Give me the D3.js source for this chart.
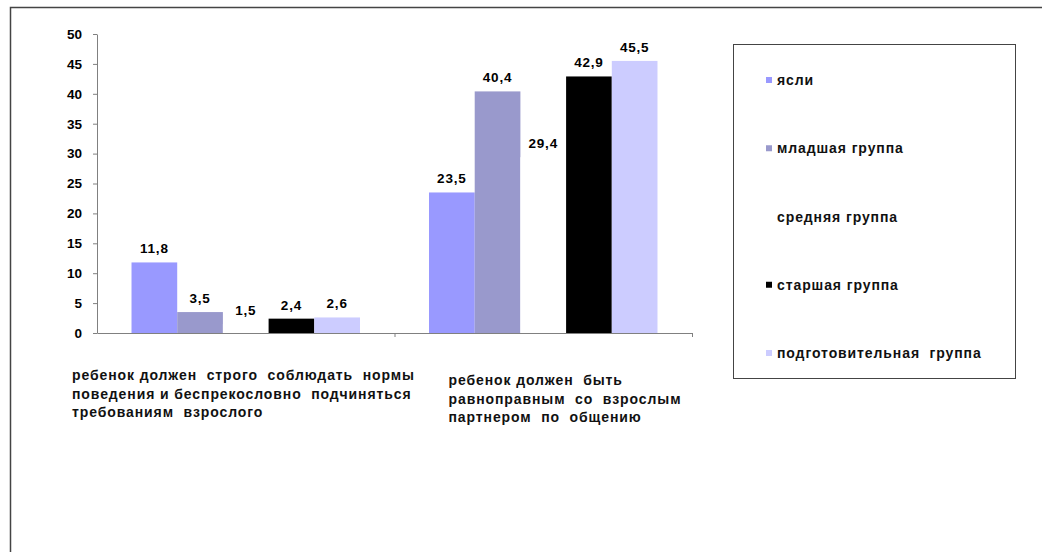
<!DOCTYPE html>
<html>
<head>
<meta charset="utf-8">
<script src="https://cdn.jsdelivr.net/npm/d3@7"></script>
<style>
  body { margin: 0; background: #fff; }
  svg { font-family: "Liberation Sans", Arial, sans-serif; font-weight: bold; }
</style>
</head>
<body>
<svg id="canvas"></svg>
<script>
// categories (each split into lines as in the picture)
const categories = [
  ['ребенок должен  строго  соблюдать  нормы', 'поведения и беспрекословно  подчиняться', 'требованиям  взрослого'],
  ['ребенок должен  быть', 'равноправным  со  взрослым', 'партнером  по  общению']
];
const seriesNames = ['ясли', 'младшая группа', 'средняя группа', 'старшая группа', 'подготовительная  группа'];
const yasli = [11.8, 23.5];
const mladshaya = [3.5, 40.4];
const srednyaya = [1.5, 29.4];
const starshaya = [2.4, 42.9];
const podgot = [2.6, 45.5];
const yTicks = [0, 5, 10, 15, 20, 25, 30, 35, 40, 45, 50];

const seriesValues = [yasli, mladshaya, srednyaya, starshaya, podgot];
const seriesColors = ['#9999ff', '#9999cc', '#ffffff', '#000000', '#ccccff'];

const width = 1042;
const height = 552;
const plot = { left: 97, right: 692, top: 34, bottom: 333 };

let canvas = d3.select('#canvas')
  .attr('width', width)
  .attr('height', height);

// outer frame (top and left edges visible)
canvas.append('path')
  .attr('d', `M10.5,${height} V7.5 H${width}`)
  .attr('fill', 'none')
  .attr('stroke', '#444')
  .attr('stroke-width', 1.5);

let rows = [];
categories.forEach((c, i) => {
  seriesNames.forEach((s, j) => {
    rows.push({ cat: i, series: j, value: seriesValues[j][i] });
  });
});

let xScale = d3.scaleBand()
  .domain(d3.range(categories.length))
  .range([plot.left, plot.right])
  .paddingInner(0.232)
  .paddingOuter(0.116);

let xInner = d3.scaleBand()
  .domain(d3.range(seriesNames.length))
  .range([0, xScale.bandwidth()]);

let yScale = d3.scaleLinear()
  .domain([0, 50])
  .range([plot.bottom, plot.top]);

let fmt = v => d3.format('.1f')(v).replace('.', ',');

// bars
canvas.append('g')
  .selectAll('rect')
  .data(rows)
  .enter()
  .append('rect')
  .attr('x', d => xScale(d.cat) + xInner(d.series))
  .attr('y', d => yScale(d.value))
  .attr('width', xInner.bandwidth())
  .attr('height', d => yScale(0) - yScale(d.value))
  .attr('fill', d => seriesColors[d.series]);

// value labels
canvas.append('g')
  .selectAll('text')
  .data(rows)
  .enter()
  .append('text')
  .attr('x', d => xScale(d.cat) + xInner(d.series) + xInner.bandwidth() / 2)
  .attr('y', d => yScale(d.value) - 9)
  .attr('text-anchor', 'middle')
  .attr('font-size', 13.5)
  .attr('letter-spacing', 0.8)
  .attr('fill', '#000')
  .text(d => fmt(d.value));

// y axis
let yAxis = d3.axisLeft(yScale)
  .tickValues(yTicks)
  .tickSize(4)
  .tickSizeOuter(0)
  .tickPadding(11);

let yg = canvas.append('g')
  .attr('transform', `translate(${plot.left}, 0)`)
  .call(yAxis)
  .attr('font-size', 13.5)
  .attr('font-family', '"Liberation Sans", Arial, sans-serif');
yg.select('.domain').attr('stroke', '#808080');
yg.selectAll('.tick line').attr('stroke', '#808080');
yg.selectAll('.tick text')
  .attr('font-weight', 'bold')
  .attr('fill', '#000');

// x axis with ticks between categories
let xEdges = d3.scaleLinear()
  .domain([0, categories.length])
  .range([plot.left, plot.right]);

let xAxis = d3.axisBottom(xEdges)
  .tickValues(d3.range(1, categories.length + 1))
  .tickFormat('')
  .tickSize(4)
  .tickSizeOuter(0);

let xg = canvas.append('g')
  .attr('transform', `translate(0, ${plot.bottom})`)
  .call(xAxis);
xg.select('.domain').attr('stroke', '#808080');
xg.selectAll('.tick line').attr('stroke', '#808080');

// category labels
const catDx = [-25, 54];
const catDy = [0, 5];
categories.forEach((lines, i) => {
  let x = xScale(i) - xScale.bandwidth() * 0.116 / 0.768 + catDx[i];
  let t = canvas.append('text')
    .attr('x', x)
    .attr('y', 380 + catDy[i])
    .attr('font-size', 14)
    .attr('letter-spacing', 0.9)
    .attr('fill', '#111')
    .style('white-space', 'pre');
  lines.forEach((line, k) => {
    t.append('tspan')
      .attr('x', x)
      .attr('dy', k === 0 ? 0 : 18.5)
      .text(line);
  });
});

// legend
let legend = canvas.append('g');
legend.append('rect')
  .attr('x', 733.5)
  .attr('y', 44.5)
  .attr('width', 282)
  .attr('height', 334)
  .attr('fill', '#fff')
  .attr('stroke', '#444');

let legendY = d3.scalePoint()
  .domain(d3.range(seriesNames.length))
  .range([80, 353]);

let items = legend.selectAll('g.item')
  .data(seriesNames)
  .enter()
  .append('g')
  .attr('class', 'item')
  .attr('transform', (d, i) => `translate(766, ${legendY(i)})`);

items.append('rect')
  .attr('x', 0)
  .attr('y', -3)
  .attr('width', 6)
  .attr('height', 6)
  .attr('fill', (d, i) => seriesColors[i]);

items.append('text')
  .attr('x', 11)
  .attr('y', 5)
  .attr('font-size', 14)
  .attr('letter-spacing', 0.9)
  .attr('fill', '#111')
  .style('white-space', 'pre')
  .text(d => d);
</script>
</body>
</html>
